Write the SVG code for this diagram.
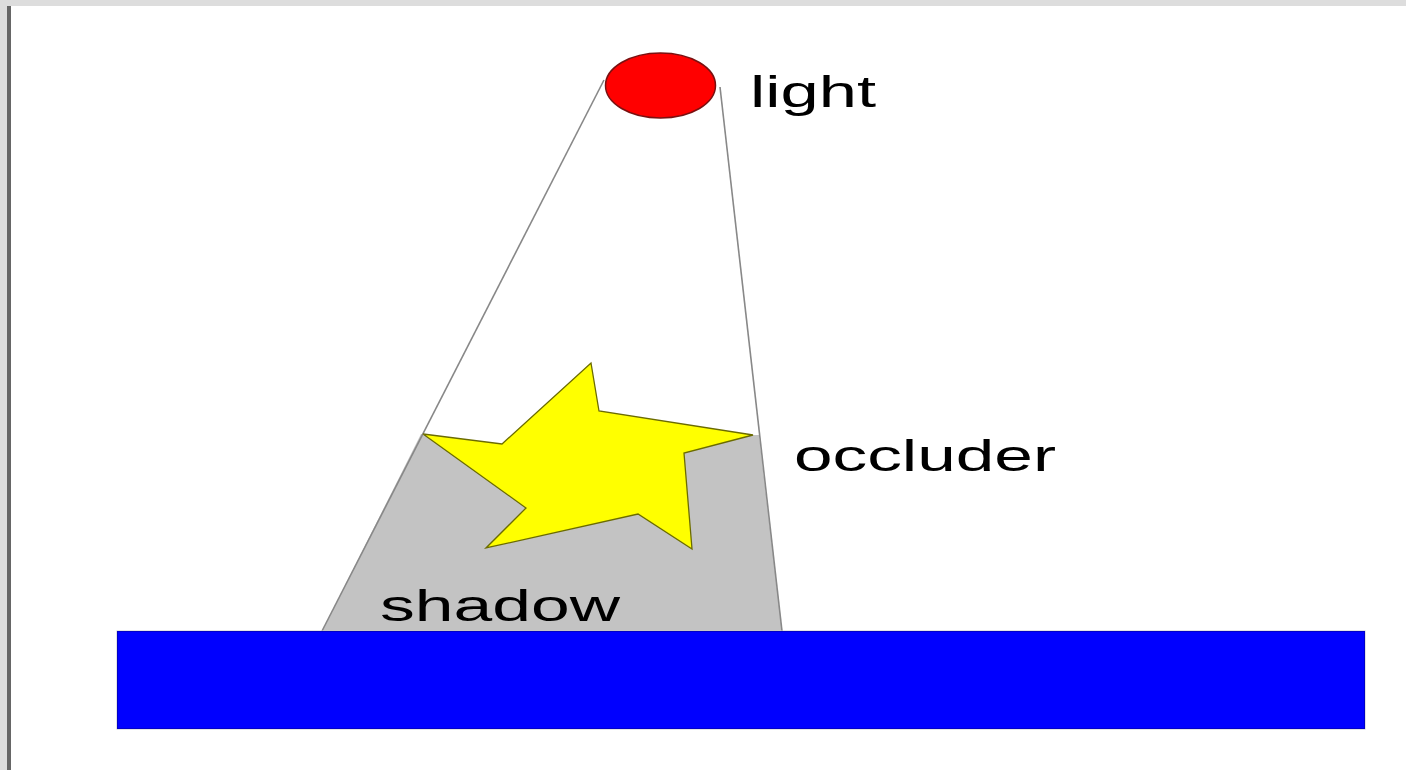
<svg xmlns="http://www.w3.org/2000/svg" width="1406" height="770" viewBox="0 0 1406 770">
<style>
.lbl{font-family:"Liberation Sans",Arial,sans-serif;font-size:44px;fill:#000}
.ray{stroke:#888;stroke-width:1.6;fill:none}
</style>
<rect x="0" y="0" width="1406" height="770" fill="#ffffff"/>
<rect x="0" y="0" width="1406" height="6" fill="#dddddd"/>
<rect x="0" y="6" width="7" height="764" fill="#dddddd"/>
<rect x="7" y="6" width="4" height="764" fill="#666666"/>
<g id="shadow">
<polygon points="421,434 423,434 526,508 486,548 638,514 692,549 684,453 753,435 759,435 782,631 322,631" fill="#c3c3c3"/>
<text class="lbl" x="380" y="621" textLength="240" lengthAdjust="spacingAndGlyphs">shadow</text>
</g>
<g id="connectors">
<line class="ray" x1="604" y1="80" x2="322" y2="631"/>
<line class="ray" x1="720" y1="87" x2="782" y2="631"/>
</g>
<g id="ground">
<rect x="116.5" y="630.5" width="1249" height="99" fill="#c8c8c8"/>
<rect x="117.5" y="631.5" width="1247" height="97" fill="#0000ff" stroke="#0000c8" stroke-width="1"/>
</g>
<g id="occluder">
<polygon points="423,434 502,444 591,363 599,411 753,435 684,453 692,549 638,514 486,548 526,508" fill="#ffff00" stroke="#6b6b00" stroke-width="1.3" stroke-linejoin="miter"/>
<text class="lbl" x="794" y="471" textLength="262" lengthAdjust="spacingAndGlyphs">occluder</text>
</g>
<g id="light">
<ellipse cx="660.5" cy="85.5" rx="55" ry="32.5" fill="#ff0000" stroke="#7a1010" stroke-width="1.5"/>
<text class="lbl" x="750" y="107" textLength="126" lengthAdjust="spacingAndGlyphs">light</text>
</g>
</svg>
